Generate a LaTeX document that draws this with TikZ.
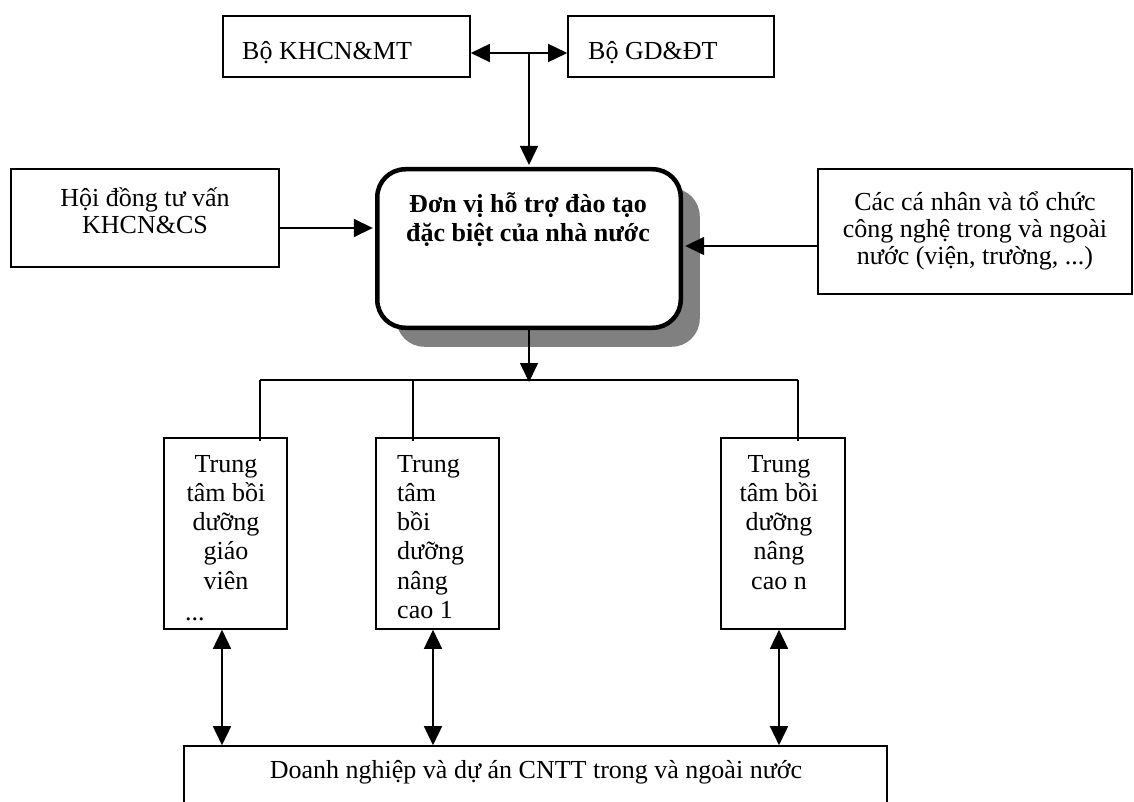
\documentclass[tikz,border=0pt]{standalone}
\usepackage{fontspec}
\setmainfont{Liberation Serif}
\usetikzlibrary{arrows.meta,shadows}
\definecolor{shadowgray}{RGB}{128,128,128}
\begin{document}
\begin{tikzpicture}[x=1pt,y=-1pt,
  box/.style={draw, line width=1.6pt, rectangle, inner sep=0pt},
  txt/.style={inner sep=0pt, anchor=base, align=center, font=\fontsize{26}{29.3}\selectfont},
  link/.style={line width=1.6pt},
  arr/.style={line width=1.6pt, -{Triangle[length=19pt,width=18pt]}},
  darr/.style={line width=1.6pt, {Triangle[length=19pt,width=18pt]}-{Triangle[length=19pt,width=18pt]}},
]
\clip (0,0) rectangle (1134,802);

% boxes
\node[box, minimum width=247pt, minimum height=61pt] (khcn) at (346.5,46.5) {};
\node[box, minimum width=206pt, minimum height=61pt] (gd) at (671,46.5) {};
\node[box, minimum width=268pt, minimum height=98pt] (hd) at (145,218) {};
\node[box, minimum width=314pt, minimum height=125pt] (cn) at (975,231.5) {};
\node[draw, line width=4.5pt, rounded corners=28pt, fill=white, inner sep=0pt,
      minimum width=303.5pt, minimum height=158.5pt,
      drop shadow={shadow xshift=19pt, shadow yshift=-19pt, fill=shadowgray, opacity=1}]
      (main) at (529,248.5) {};
\node[box, minimum width=123pt, minimum height=191pt] (b1) at (225.5,533.5) {};
\node[box, minimum width=123pt, minimum height=191pt] (b2) at (437.5,533.5) {};
\node[box, minimum width=124pt, minimum height=191pt] (b3) at (783,533.5) {};
\node[box, minimum width=703pt, minimum height=154pt] (biz) at (535.5,823) {};

% texts (base anchor = baseline of the last line)
\node[txt, anchor=base west] (tkhcn) at (242,60) {Bộ KHCN\&MT};
\node[txt, anchor=base west] (tgd) at (588,60) {Bộ GD\&ĐT};
\node[txt, font=\fontsize{26}{28}\selectfont] (thd) at (145,234) {Hội đồng tư vấn\\KHCN\&CS};
\node[txt, font=\fontsize{26}{27}\selectfont] (tcn) at (975,264) {Các cá nhân và tổ chức\\công nghệ trong và ngoài\\nước (viện, trường, ...)};
\node[txt, font=\fontsize{26}{29}\selectfont\bfseries] (tmain) at (528,242) {Đơn vị hỗ trợ đào tạo\\đặc biệt của nhà nước};
\node[txt] (tb1) at (226,589.2) {Trung\\tâm bồi\\dưỡng\\giáo\\viên};
\node[txt, anchor=base west] (tb1d) at (185,620) {...};
\node[txt, align=left, anchor=base west] (tb2) at (397,618.5) {Trung\\tâm\\bồi\\dưỡng\\nâng\\cao 1};
\node[txt] (tb3) at (779,589.2) {Trung\\tâm bồi\\dưỡng\\nâng\\cao n};
\node[txt] (tbiz) at (536,778) {Doanh nghiệp và dự án CNTT trong và ngoài nước};

% top connectors
\coordinate (jt) at (529,53);
\draw[arr] (jt) -- (jt -| khcn.east);
\draw[arr] (jt) -- (jt -| gd.west);
\draw[arr, shorten >=2pt] (jt) -- (jt |- main.north);

% side connectors
\coordinate (hdy) at (0,228);
\draw[arr, shorten >=2.2pt] (hdy -| hd.east) -- (hdy -| main.west);
\coordinate (cny) at (0,246);
\draw[arr, shorten >=2.2pt] (cny -| cn.west) -- (cny -| main.east);

% distribution bar
\coordinate (bar) at (529,382);
\coordinate (p1) at (260,380);
\coordinate (p2) at (413,380);
\coordinate (p3) at (798,380);
\draw[arr] (main.south) -- (bar);
\draw[link] (p1) -- (p3);
\draw[link, shorten >=-4pt] (p1) -- (p1 |- b1.north);
\draw[link, shorten >=-4pt] (p2) -- (p2 |- b2.north);
\draw[link, shorten >=-4pt] (p3) -- (p3 |- b3.north);

% double arrows to businesses
\coordinate (d1) at (222,0);
\coordinate (d2) at (433,0);
\coordinate (d3) at (779,0);
\draw[darr] (d1 |- b1.south) -- (d1 |- biz.north);
\draw[darr] (d2 |- b2.south) -- (d2 |- biz.north);
\draw[darr] (d3 |- b3.south) -- (d3 |- biz.north);
\end{tikzpicture}
\end{document}
